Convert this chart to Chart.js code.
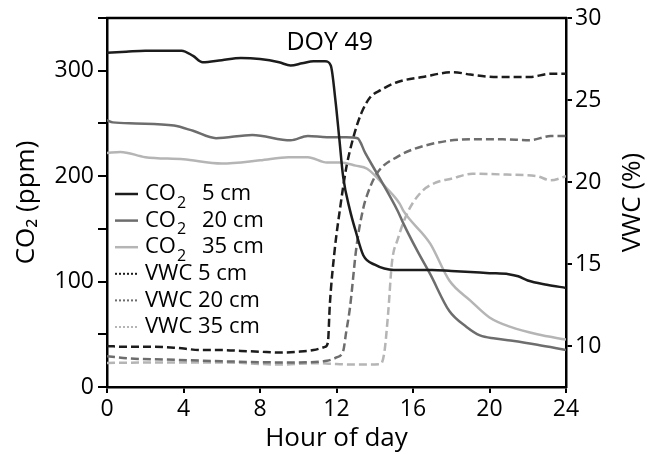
<!DOCTYPE html>
<html>
<head>
<meta charset="utf-8">
<script src="https://cdn.jsdelivr.net/npm/chart.js@4.4.1/dist/chart.umd.min.js"></script>
<style>
    html, body { margin: 0; padding: 0; background: #fff; }
    #wrap { width: 661px; height: 454px; }
</style>
</head>
<body>
<div id="wrap"><canvas id="chart"></canvas></div>
<script>
// --- data (hour of day -> value) ---
const plotTitle = 'DOY 49';

const co2Hours5 = [0, 1, 2, 3, 3.9, 4.5, 5, 6, 7, 8, 9, 9.6, 10.2, 10.8, 11.4, 11.7, 11.95, 12.15, 12.35, 12.7, 13.0, 13.4, 14, 15, 16, 17, 18, 19, 20, 21, 21.5, 22, 23, 24];
const co2Values5 = [317, 318, 319, 319, 319, 314, 308, 310, 312, 311, 308, 305, 307, 309, 309, 305, 271, 235, 199, 168, 148, 125, 116, 111, 111, 111, 110, 109, 108, 107, 105, 101, 97, 94];

const co2Hours20 = [0, 0.3, 1.5, 3.5, 4.5, 5.7, 7.6, 9.6, 10.5, 11.5, 12.5, 13.1, 13.5, 14.1, 15.2, 15.5, 16.2, 16.9, 17.9, 18.8, 19.5, 20.3, 21.1, 22.5, 24];
const co2Values20 = [253, 251, 250, 248, 243, 236, 239, 234, 238, 237, 237, 236, 222, 203, 167, 155, 130, 107, 72, 57, 49, 46, 44, 40, 35];

const co2Hours35 = [0, 0.7, 2, 4, 6, 8, 9.5, 10.5, 11.5, 12.2, 13, 13.6, 14.6, 15.3, 15.5, 16.9, 17.9, 19, 20, 21.1, 22.5, 24];
const co2Values35 = [222, 223, 218, 216, 212, 215, 218, 218, 213, 213, 210, 207, 189, 174, 167, 136, 101, 82, 66, 57, 50, 45];

const vwcHours5 = [0, 1, 2.2, 3.5, 5, 6, 7, 8, 9, 10, 10.8, 11.4, 11.55, 11.65, 11.9, 12.2, 12.5, 12.9, 13.3, 13.75, 14.3, 15.2, 16.5, 18.1, 19, 20.4, 22.1, 23.2, 24];
const vwcValues5 = [10.0, 9.95, 9.95, 9.9, 9.75, 9.75, 9.7, 9.65, 9.6, 9.65, 9.75, 9.95, 10.2, 12.5, 15.8, 18.5, 20.8, 22.8, 24.2, 25.15, 25.6, 26.1, 26.4, 26.7, 26.55, 26.4, 26.4, 26.6, 26.6];

const vwcHours20 = [0, 1.2, 3, 6, 9, 10, 11.5, 12, 12.35, 12.5, 12.7, 13.05, 13.4, 13.6, 14.1, 15.2, 16.9, 19, 20.7, 22.1, 23.2, 24];
const vwcValues20 = [9.38, 9.24, 9.18, 9.07, 9.0, 9.0, 9.1, 9.3, 9.7, 10.8, 12.3, 16.1, 18.4, 19.2, 20.5, 21.55, 22.3, 22.6, 22.6, 22.55, 22.8, 22.8];

const vwcHours35 = [0, 3, 6, 9, 11, 12, 13, 14.3, 14.5, 14.7, 14.9, 15.2, 15.7, 16.4, 17.2, 18, 19.1, 20.9, 22.5, 23.2, 24];
const vwcValues35 = [8.97, 9.0, 9.0, 8.87, 8.95, 8.9, 8.87, 8.9, 9.6, 12.0, 15.1, 16.5, 18.1, 19.35, 19.97, 20.2, 20.5, 20.45, 20.35, 20.1, 20.35];

const seriesDepths = ['5 cm', '20 cm', '35 cm'];
const xTicks = [0, 4, 8, 12, 16, 20, 24];
const co2Ticks = [0, 50, 100, 150, 200, 250, 300, 350];
const co2Labelled = [0, 100, 200, 300];
const vwcTicks = [10, 15, 20, 25, 30];

const FONT = '"Open Sans", "DejaVu Sans", sans-serif';
const shades = ['#1c1c1c', '#6d6d6d', '#b5b5b5'];

function toPoints(hours, values) {
    return hours.map((h, i) => ({ x: h, y: values[i] }));
}

const co2Sets = [[co2Hours5, co2Values5], [co2Hours20, co2Values20], [co2Hours35, co2Values35]];
const vwcSets = [[vwcHours5, vwcValues5], [vwcHours20, vwcValues20], [vwcHours35, vwcValues35]];

const datasets = [];
co2Sets.forEach((s, i) => {
    datasets.push({
        label: 'CO2 ' + seriesDepths[i],
        kind: 'co2',
        data: toPoints(s[0], s[1]),
        yAxisID: 'y',
        borderColor: shades[i],
        borderWidth: 2.5,
        pointRadius: 0,
        cubicInterpolationMode: 'monotone',
        fill: false
    });
});
vwcSets.forEach((s, i) => {
    datasets.push({
        label: 'VWC ' + seriesDepths[i],
        kind: 'vwc',
        data: toPoints(s[0], s[1]),
        yAxisID: 'y2',
        borderColor: shades[i],
        borderWidth: 2.5,
        borderDash: [8, 4],
        pointRadius: 0,
        cubicInterpolationMode: 'monotone',
        fill: false
    });
});

// frame top line, panel title, hand-drawn legend and right axis title
const overlayPlugin = {
    id: 'overlay',
    afterDraw(chart) {
        const ctx = chart.ctx;
        const area = chart.chartArea;
        const xs = chart.scales.x;
        ctx.save();

        ctx.strokeStyle = '#000';
        ctx.lineWidth = 2.5;
        ctx.beginPath();
        ctx.moveTo(area.left - 1, area.top);
        ctx.lineTo(area.right + 1, area.top);
        ctx.stroke();

        ctx.fillStyle = '#000';
        ctx.font = '25px ' + FONT;
        ctx.textAlign = 'center';
        ctx.textBaseline = 'middle';
        ctx.fillText(plotTitle, xs.getPixelForValue(11.65), area.top + 25);

        // legend
        const lx = area.left + 8;
        let ly = area.top + 176;
        ctx.textAlign = 'left';
        chart.data.datasets.forEach(ds => {
            ctx.strokeStyle = ds.borderColor;
            ctx.lineWidth = ds.kind === 'co2' ? 2.5 : 2;
            ctx.setLineDash(ds.kind === 'co2' ? [] : [2, 2]);
            ctx.beginPath();
            ctx.moveTo(lx, ly);
            ctx.lineTo(lx + 23, ly);
            ctx.stroke();
            ctx.setLineDash([]);
            ctx.fillStyle = '#000';
            const tx = lx + 30;
            ctx.font = '22px ' + FONT;
            if (ds.kind === 'co2') {
                ctx.fillText('CO', tx, ly);
                const w = ctx.measureText('CO').width;
                ctx.font = '16px ' + FONT;
                ctx.fillText('2', tx + w + 1, ly + 9);
                ctx.font = '22px ' + FONT;
                ctx.fillText(ds.label.replace('CO2 ', ''), tx + 57, ly);
            } else {
                ctx.fillText(ds.label, tx, ly);
            }
            ly += 26.6;
        });

        // right axis title, reading bottom to top
        ctx.translate(633, (area.top + area.bottom) / 2);
        ctx.rotate(-Math.PI / 2);
        ctx.textAlign = 'center';
        ctx.font = '26px ' + FONT;
        ctx.fillText('VWC (%)', 0, 0);
        ctx.restore();
    }
};

new Chart(document.getElementById('chart'), {
    type: 'line',
    data: { datasets: datasets },
    options: {
        responsive: true,
        maintainAspectRatio: false,
        devicePixelRatio: 1,
        animation: false,
        layout: { padding: { top: 18, left: 0, right: 0, bottom: 0 } },
        plugins: {
            legend: { display: false },
            tooltip: { enabled: false }
        },
        scales: {
            x: {
                type: 'linear',
                min: 0,
                max: 24,
                afterBuildTicks: s => { s.ticks = xTicks.map(v => ({ value: v })); },
                afterFit: s => { s.height = 67; },
                grid: { drawOnChartArea: false, tickLength: 6, color: '#000', lineWidth: 2 },
                border: { color: '#000', width: 2.5 },
                ticks: { color: '#000', font: { family: FONT, size: 23 }, padding: 3, maxRotation: 0 },
                title: { display: true, text: 'Hour of day', color: '#000', font: { family: FONT, size: 26 }, padding: { top: 0, bottom: 0 } }
            },
            y: {
                position: 'left',
                min: 0,
                max: 350,
                afterBuildTicks: s => { s.ticks = co2Ticks.map(v => ({ value: v })); },
                afterFit: s => { s.width = 107; },
                grid: { drawOnChartArea: false, tickLength: 9, color: '#000', lineWidth: 2 },
                border: { color: '#000', width: 2.5 },
                ticks: {
                    color: '#000',
                    font: { family: FONT, size: 23 },
                    padding: 4,
                    callback: v => co2Labelled.includes(v) ? String(v) : ''
                },
                title: { display: true, text: 'CO₂ (ppm)', color: '#000', font: { family: FONT, size: 26 }, padding: { top: 11, bottom: 0 } }
            },
            y2: {
                position: 'right',
                min: 7.5,
                max: 30,
                afterBuildTicks: s => { s.ticks = vwcTicks.map(v => ({ value: v })); },
                afterFit: s => { s.width = 95; },
                grid: { drawOnChartArea: false, tickLength: 6, color: '#000', lineWidth: 2 },
                border: { color: '#000', width: 2.5 },
                ticks: { color: '#000', font: { family: FONT, size: 23 }, padding: 3 }
            }
        }
    },
    plugins: [overlayPlugin]
});
</script>
</body>
</html>
